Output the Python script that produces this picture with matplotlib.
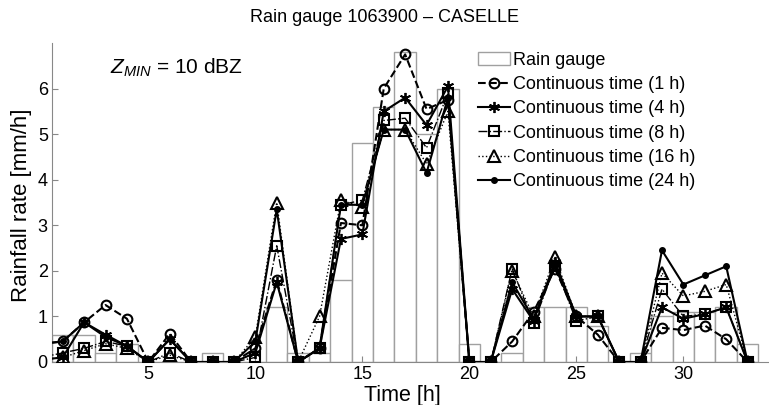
import matplotlib
matplotlib.use("Agg")
import matplotlib.pyplot as plt

plt.rcParams["font.family"] = ["Liberation Sans", "DejaVu Sans"]
plt.rcParams["mathtext.fontset"] = "custom"
plt.rcParams["mathtext.it"] = "Liberation Sans:italic"
plt.rcParams["mathtext.rm"] = "Liberation Sans"

# hours 0..33 (hour 0 only to let the lines start at the left axis)
hours = list(range(0, 34))
gauge_hours = list(range(1, 34))
gauge = [0.6, 0.6, 0.2, 0.4, 0, 0, 0, 0.2, 0, 0, 1.2, 0.2, 0.2, 1.8, 4.8, 5.6, 6.8,
         5.0, 6.0, 0.4, 0, 0.2, 1.2, 1.2, 1.2, 0.8, 0, 0.2, 1.0, 1.1, 1.1, 1.2, 0.4]

ct_1h = [0.4, 0.45, 0.87, 1.25, 0.95, 0, 0.62, 0, 0, 0, 0.3, 1.8, 0, 0.3, 3.05, 3.0, 6.0,
         6.75, 5.55, 5.75, 0, 0, 0.45, 1.1, 2.05, 1.0, 0.6, 0, 0, 0.75, 0.7, 0.8, 0.5, 0]
ct_4h = [0.05, 0.1, 0.87, 0.6, 0.35, 0, 0.5, 0, 0, 0, 0.2, 1.75, 0, 0.3, 2.7, 2.8, 5.5,
         5.8, 5.2, 6.05, 0, 0, 1.6, 0.9, 2.2, 1.0, 1.0, 0, 0, 1.2, 0.95, 1.05, 1.2, 0]
ct_8h = [0.1, 0.2, 0.3, 0.45, 0.35, 0, 0.2, 0, 0, 0, 0.1, 2.55, 0, 0.3, 3.45, 3.55, 5.3,
         5.35, 4.7, 5.9, 0, 0, 2.05, 0.85, 2.1, 0.9, 1.0, 0, 0, 1.6, 1.0, 1.05, 1.2, 0]
ct_16h = [0.05, 0.1, 0.25, 0.4, 0.3, 0, 0.15, 0, 0, 0, 0.55, 3.5, 0, 1.0, 3.55, 3.4, 5.1,
          5.1, 4.35, 5.5, 0, 0, 2.0, 1.0, 2.3, 1.0, 1.0, 0, 0, 1.95, 1.45, 1.55, 1.7, 0]
ct_24h = [0.4, 0.45, 0.87, 0.55, 0.35, 0, 0.5, 0, 0, 0, 0.45, 3.35, 0, 0.3, 3.45, 3.45, 5.1,
          5.1, 4.15, 5.8, 0, 0, 1.75, 0.95, 2.1, 1.0, 1.0, 0, 0, 2.45, 1.7, 1.9, 2.1, 0]

fig = plt.figure(figsize=(7.69, 4.05), dpi=100)
ax = fig.add_axes([52 / 769, 43 / 405, 717 / 769, 319 / 405])

ax.bar(gauge_hours, gauge, width=1.0, facecolor="white", edgecolor="#a0a0a0",
       linewidth=1.0, label="Rain gauge", zorder=1)

ax.plot(hours, ct_1h, color="k", ls="--", marker="o", mfc="none", ms=7, mew=1.5,
        lw=1.5, label="Continuous time (1 h)", zorder=3)
ax.plot(hours, ct_4h, color="k", ls="-", marker=(6, 2, 0), ms=8, mew=1.3, lw=1.5,
        label="Continuous time (4 h)", zorder=3)
ax.plot(hours, ct_8h, color="k", ls="-.", marker="s", mfc="none", ms=7, mew=1.5,
        lw=1.0, label="Continuous time (8 h)", zorder=3)
ax.plot(hours, ct_16h, color="k", ls=":", marker="^", mfc="none", ms=8, mew=1.5,
        lw=1.0, label="Continuous time (16 h)", zorder=3)
ax.plot(hours, ct_24h, color="k", ls="-", marker=".", ms=8, lw=1.5,
        label="Continuous time (24 h)", zorder=3)

ax.set_xlim(0.5, 34)
ax.set_ylim(0, 7)
ax.set_xticks([5, 10, 15, 20, 25, 30])
ax.set_yticks([0, 1, 2, 3, 4, 5, 6])
ax.tick_params(direction="in", labelsize=13, length=4, color="#888888", pad=3)
for side in ["top", "right"]:
    ax.spines[side].set_visible(False)
for side in ["left", "bottom"]:
    ax.spines[side].set_color("#888888")

# axis labels placed where the reference has them
ax.set_xlabel("Time [h]", fontsize=15.5)
ax.xaxis.set_label_coords((402 - 52) / 717, -(395 - 362) / 319)
ax.xaxis.label.set_va("center")
ax.set_ylabel("Rainfall rate [mm/h]", fontsize=16)
ax.yaxis.set_label_coords(-(52 - 22) / 717, (362 - 205) / 319)
ax.yaxis.label.set_va("center")

ax.text(3.2, 6.45, r"$Z_{MIN}$ = 10 dBZ", fontsize=15, ha="left", va="center")
fig.text(0.5, 0.958, "Rain gauge 1063900 \u2013 CASELLE", fontsize=13,
         ha="center", va="center")

handles, labels = ax.get_legend_handles_labels()
order = [5, 0, 1, 2, 3, 4]
ax.legend([handles[i] for i in order], [labels[i] for i in order],
          loc="upper left", bbox_to_anchor=(478 / 769, 1 - 52 / 405),
          bbox_transform=fig.transFigure, frameon=False, fontsize=13,
          handlelength=1.75, handletextpad=0.2, labelspacing=0.4,
          borderaxespad=0, borderpad=0)

fig.savefig("out.png", dpi=100)
plt.close(fig)
